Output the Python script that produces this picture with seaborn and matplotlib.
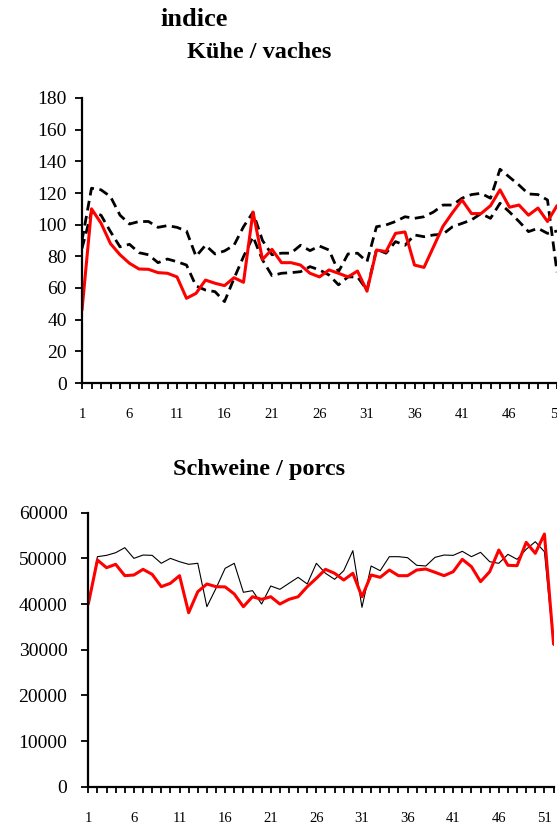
import numpy as np
import pandas as pd
import matplotlib
matplotlib.use("Agg")
import matplotlib.pyplot as plt
import seaborn as sns

# Kühe / vaches - index values per week
kuehe_weeks = list(range(1, 52))
kuehe_aktuell = [46, 110, 101, 88, 81, 75.6, 72, 71.8, 69.7, 69.3,
                 67, 53.5, 56.6, 65, 63, 61.5, 66.5, 63.6, 108, 78,
                 84.4, 76, 76, 74.5, 69.3, 67, 71.4, 69.3, 67, 70.7,
                 58, 84, 83, 94.5, 95.4, 74.5, 73, 86, 99, 107.6,
                 115.6, 107, 107, 112, 122, 111, 112.4, 106, 110.5, 102,
                 112]
kuehe_max = [90, 123, 122, 117.7, 106, 100.4, 102, 102, 98.3, 99.4,
             98.3, 96, 80, 87, 81.5, 83.4, 87, 98.7, 107.8, 90,
             81, 82, 82, 87, 83.6, 86.5, 84, 70.3, 81.5, 82,
             76.6, 98.7, 99.8, 102, 105, 104, 105, 108, 112.4, 112.4,
             116.7, 119, 119.8, 116.7, 135, 130, 125, 119.4, 119, 115.6,
             70]
kuehe_min = [85, 108, 106, 95.6, 86, 87.6, 82.3, 81, 76, 78.3,
             76.6, 74.5, 61.3, 58.7, 57.7, 51.4, 66, 79.8, 92.4, 77.7,
             67.8, 69.3, 69.7, 70.3, 73.5, 71.4, 68.2, 62, 67, 67,
             58.7, 84.4, 82, 89.3, 87, 93.5, 92.4, 93.5, 94, 98.7,
             100.8, 103, 107, 104, 113.5, 108, 102, 95.6, 97.7, 94.5,
             96]

# Schweine / porcs - counts per week
schweine_weeks = list(range(1, 53))
schweine_aktuell = [40000, 49640, 47960, 48700, 46210, 46360, 47600, 46500, 43800, 44540,
                    46210, 38100, 42700, 44390, 43800, 43750, 42200, 39420, 41600, 41030,
                    41600, 40000, 41030, 41600, 43800, 45630, 47600, 46730, 45260, 46730,
                    41600, 46360, 45850, 47450, 46210, 46210, 47450, 47670, 46950, 46210,
                    47080, 49790, 48180, 44900, 47080, 51830, 48480, 48400, 53510, 51100,
                    55330, 31250]
schweine_vorjahr = [40000, 50370, 50660, 51240, 52340, 50000, 50730, 50660, 48920, 50000,
                    49270, 48700, 48920, 39420, 43440, 47820, 48920, 42570, 42930, 40000,
                    43950, 43220, 44540, 45850, 44390, 48920, 46730, 45410, 47300, 51680,
                    39280, 48330, 47300, 50370, 50370, 50150, 48480, 48330, 50220, 50730,
                    50660, 51540, 50370, 51320, 49270, 48920, 50880, 49790, 51980, 53650,
                    51460, 31000]

kuehe = pd.DataFrame({"Woche": kuehe_weeks, "aktuell": kuehe_aktuell,
                      "max": kuehe_max, "min": kuehe_min})
schweine = pd.DataFrame({"Woche": schweine_weeks, "aktuell": schweine_aktuell,
                         "vorjahr": schweine_vorjahr})

sns.set_style("white")
plt.rcParams["font.family"] = ["Liberation Serif", "DejaVu Serif"]
plt.rcParams["text.color"] = "black"

W, H = 557, 825
fig = plt.figure(figsize=(W / 100, H / 100), dpi=100)


def style_axis(ax, ymax, ystep, ypad):
    for side in ["top", "right"]:
        ax.spines[side].set_visible(False)
    for side in ["left", "bottom"]:
        ax.spines[side].set_linewidth(1.6)
        ax.spines[side].set_color("black")
    ax.set_ylim(0, ymax)
    ax.set_yticks(np.arange(0, ymax + 1, ystep))
    ax.set_xticks(range(1, 53, 5))
    ax.set_xticks(range(1, 53), minor=True)
    ax.tick_params(axis="x", which="both", direction="out", length=4,
                   width=1.3, colors="black", pad=14, labelsize=10.5,
                   bottom=True)
    ax.tick_params(axis="y", direction="out", length=5, width=1.3,
                   colors="black", pad=ypad, labelsize=14, left=True)
    ax.set_xlabel("")
    ax.set_ylabel("")
    ax.grid(False)


# top chart: runs past the right edge, as in the reference crop
ax1 = fig.add_axes([82 / W, 1 - 383 / H, 51 * 9.5 / W, 285 / H])
sns.lineplot(data=kuehe, x="Woche", y="max", ax=ax1, color="black",
             linewidth=2.0, linestyle=(0, (3.5, 2)))
sns.lineplot(data=kuehe, x="Woche", y="min", ax=ax1, color="black",
             linewidth=2.0, linestyle=(0, (3.5, 2)))
sns.lineplot(data=kuehe, x="Woche", y="aktuell", ax=ax1, color="#ff0000",
             linewidth=2.2)
ax1.set_xlim(1, 52)
style_axis(ax1, 180, 20, 6)

# bottom chart
ax2 = fig.add_axes([88.3 / W, 1 - 786.7 / H, (554 - 88.3) / W, 274 / H])
sns.lineplot(data=schweine, x="Woche", y="vorjahr", ax=ax2, color="black",
             linewidth=0.8)
sns.lineplot(data=schweine, x="Woche", y="aktuell", ax=ax2, color="#ff0000",
             linewidth=2.2)
ax2.set_xlim(1, 52.05)
style_axis(ax2, 60000, 10000, 10)

fig.text(194 / W, 1 - 20 / H, "indice", ha="center", va="center",
         fontsize=19, fontweight="bold", color="black")
fig.text(259 / W, 1 - 53 / H, "Kühe / vaches", ha="center", va="center",
         fontsize=17.5, fontweight="bold", color="black")
fig.text(259 / W, 1 - 470 / H, "Schweine / porcs", ha="center", va="center",
         fontsize=17.5, fontweight="bold", color="black")

fig.savefig("out.png", dpi=100)
